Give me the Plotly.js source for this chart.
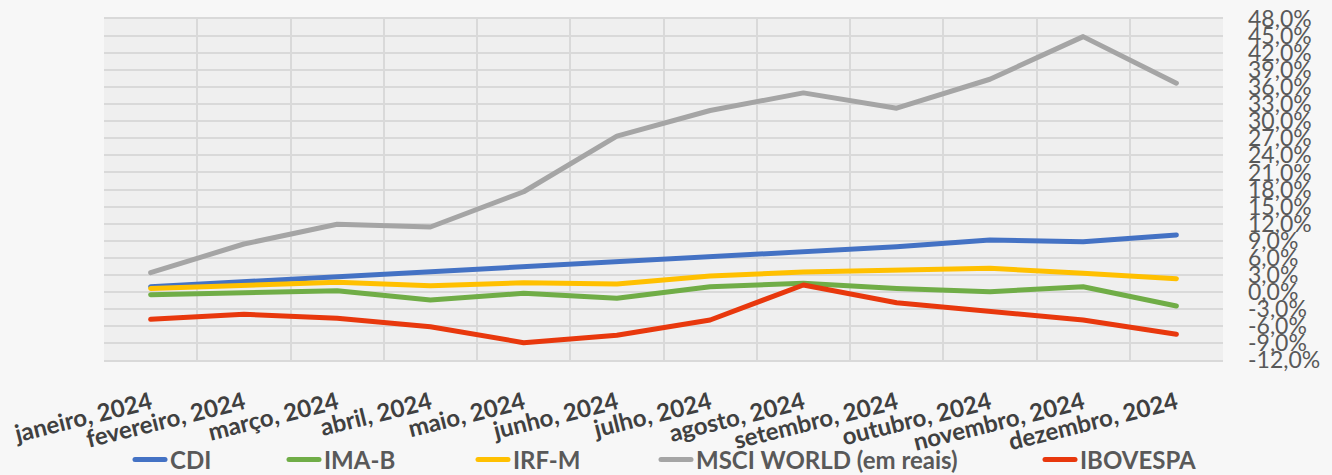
<!DOCTYPE html>
<html>
<head>
<meta charset="utf-8">
<script src="https://cdn.plot.ly/plotly-3.0.1.min.js"></script>
<style>
html,body{margin:0;padding:0;background:#f7f7f7;}
#chart{width:1332px;height:475px;}
path.js-line{stroke-linecap:round !important;stroke-linejoin:round !important;}
</style>
</head>
<body>
<div id="chart"></div>
<script>
const months = ["janeiro, 2024","fevereiro, 2024","março, 2024","abril, 2024","maio, 2024","junho, 2024","julho, 2024","agosto, 2024","setembro, 2024","outubro, 2024","novembro, 2024","dezembro, 2024"];
const cdi   = [0.90, 1.80, 2.70, 3.54, 4.42, 5.19, 6.18, 7.06, 7.94, 9.11, 8.82, 10.00];
const imab  = [-0.50, -0.10, 0.20, -1.44, -0.27, -1.15, 0.90, 1.49, 0.60, 0.02, 0.90, -2.50];
const irfm  = [0.60, 1.07, 1.67, 1.07, 1.60, 1.37, 2.78, 3.48, 3.84, 4.13, 3.26, 2.31];
const msci  = [3.36, 8.41, 11.88, 11.40, 17.60, 27.40, 31.90, 35.00, 32.30, 37.40, 44.90, 36.70];
const ibov  = [-4.84, -3.96, -4.66, -6.14, -8.95, -7.66, -4.96, 1.20, -1.92, -3.50, -4.96, -7.48];
const seriesNames = ["CDI","IMA-B","IRF-M","MSCI WORLD (em reais)","IBOVESPA"];
const yTickVals = [48,45,42,39,36,33,30,27,24,21,18,15,12,9,6,3,0,-3,-6,-9,-12];
const yTickText = ["48,0%","45,0%","42,0%","39,0%","36,0%","33,0%","30,0%","27,0%","24,0%","21,0%","18,0%","15,0%","12,0%","9,0%","6,0%","3,0%","0,0%","-3,0%","-6,0%","-9,0%","-12,0%"];

const colors = ["#4472c4","#70ad47","#ffc000","#a5a5a5","#e8380d"];
const data = [cdi, imab, irfm, msci, ibov];
const legendIds = ["legend","legend2","legend3","legend4","legend5"];
const legendTextPx = [173, 327, 516, 699, 1083];

const traces = data.map((vals, i) => ({
  type: "scatter", mode: "lines",
  x: months, y: vals, name: seriesNames[i],
  legend: legendIds[i],
  line: {color: colors[i], width: 5},
  hoverinfo: "skip"
}));

const plotL = 104, plotW = 1332 - 104 - 109;
const layout = {
  width: 1332, height: 475,
  margin: {l: plotL, r: 109, t: 19, b: 115},
  paper_bgcolor: "#f7f7f7",
  plot_bgcolor: "#efefef",
  font: {family: "Lato, sans-serif", color: "#595959"},
  showlegend: true,
  xaxis: {
    type: "category", range: [-0.5, 11.5], tickson: "boundaries",
    showgrid: true, gridcolor: "#d9d9d9", gridwidth: 2,
    ticks: "", tickangle: -14, ticklabelstandoff: 18,
    tickfont: {family: "Lato, sans-serif", size: 24, color: "#404040", weight: "bold"},
    showline: true, linecolor: "#d9d9d9", linewidth: 2, mirror: true,
    zeroline: false, fixedrange: true, automargin: false
  },
  yaxis: {
    side: "right", range: [-12, 48],
    tickmode: "array", tickvals: yTickVals, ticktext: yTickText,
    showgrid: true, gridcolor: "#d9d9d9", gridwidth: 2,
    zeroline: false, ticks: "", ticklabelstandoff: 24,
    tickfont: {family: "Lato, sans-serif", size: 23, color: "#595959"},
    fixedrange: true, automargin: false
  }
};
legendIds.forEach((id, i) => {
  layout[id] = {
    orientation: "h", xref: "paper", x: (legendTextPx[i] - 43 - plotL) / plotW, xanchor: "left",
    yref: "container", y: 0.032, yanchor: "middle",
    font: {family: "Lato, sans-serif", size: 24, color: "#595959", weight: "bold"},
    bgcolor: "rgba(0,0,0,0)", borderwidth: 0
  };
});

Plotly.newPlot("chart", traces, layout, {displayModeBar: false, staticPlot: true});
</script>
</body>
</html>
